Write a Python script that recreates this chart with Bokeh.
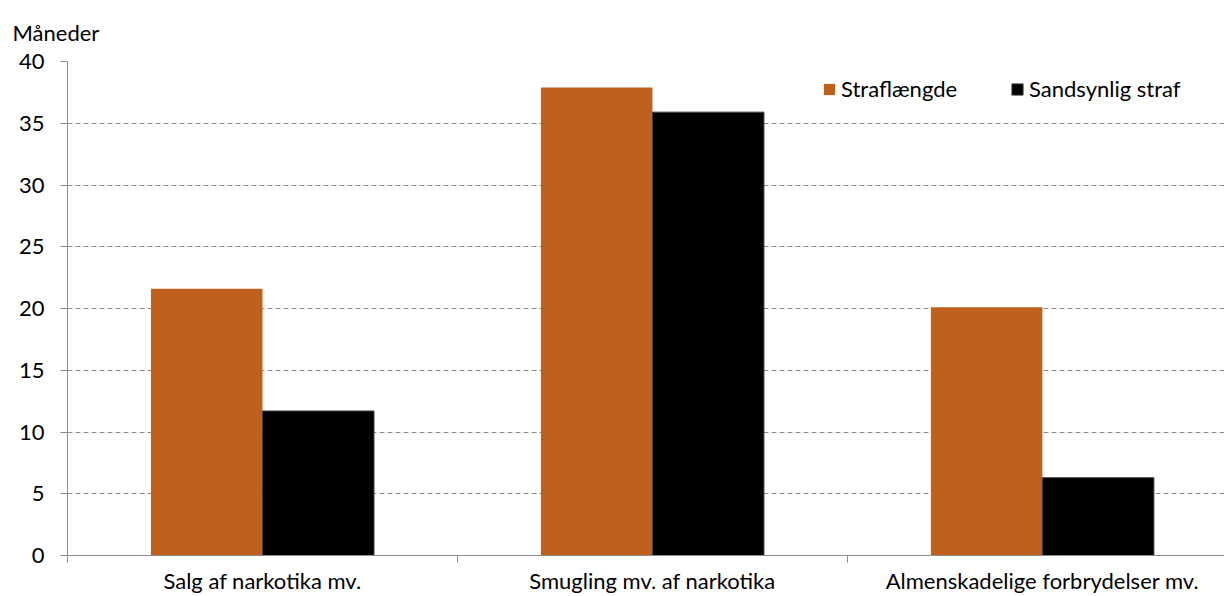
from bokeh.plotting import figure
from bokeh.models import (Range1d, FixedTicker, Legend, LegendItem,
                          ColumnDataSource, Title)
from bokeh.embed import file_html
from bokeh.resources import INLINE

categories = ["Salg af narkotika mv.", "Smugling mv. af narkotika",
              "Almenskadelige forbrydelser mv."]
series_names = ["Straflængde", "Sandsynlig straf"]
straflaengde = [21.6, 37.9, 20.1]
sandsynlig = [11.7, 35.9, 6.3]
y_ticks = [0, 5, 10, 15, 20, 25, 30, 35, 40]
y_label = "Måneder"

FONT = "Lato"
FS = "22px"
ORANGE = "#C0601E"
GREY = "#8C8C8C"

W, H = 1224, 596
bar_w = 0.286
idx = list(range(len(categories)))
centers = [i + 0.5 for i in idx]
src1 = ColumnDataSource(dict(x=[c - bar_w / 2 for c in centers], top=straflaengde))
src2 = ColumnDataSource(dict(x=[c + bar_w / 2 for c in centers], top=sandsynlig))

p = figure(width=W, height=H, output_backend="svg", toolbar_location=None,
           x_range=Range1d(0, 2.967), y_range=Range1d(0, 40),
           min_border_left=67, min_border_right=0, min_border_top=61,
           min_border_bottom=41)
p.outline_line_color = None
p.background_fill_color = "white"
p.border_fill_color = "white"

p.add_layout(Title(text=y_label, align="left", offset=-55, standoff=32,
                   vertical_align="bottom",
                   text_font=FONT, text_font_size=FS, text_font_style="normal",
                   text_color="black"), "above")

r1 = p.vbar(x="x", top="top", width=bar_w, source=src1, fill_color=ORANGE,
            line_color=None)
r2 = p.vbar(x="x", top="top", width=bar_w, source=src2, fill_color="black",
            line_color="#404040", line_width=1)

# axes
p.xgrid.visible = False
p.ygrid.grid_line_color = GREY
p.ygrid.grid_line_dash = "5 3"
p.ygrid.grid_line_width = 1
p.yaxis.ticker = FixedTicker(ticks=y_ticks)
p.yaxis.axis_line_color = GREY
p.yaxis.major_tick_line_color = GREY
p.yaxis.major_tick_out = 7
p.yaxis.major_tick_in = 0
p.yaxis.minor_tick_line_color = None
p.yaxis.major_label_standoff = 16
p.yaxis.major_label_text_font = FONT
p.yaxis.major_label_text_font_size = FS
p.yaxis.major_label_text_color = "black"

p.xaxis.ticker = FixedTicker(ticks=centers, minor_ticks=[0, 1, 2, 3])
p.xaxis.major_label_overrides = {c: name for c, name in zip(centers, categories)}
p.xaxis.axis_line_color = GREY
p.xaxis.major_tick_line_color = None
p.xaxis.major_tick_out = 0
p.xaxis.major_tick_in = 0
p.xaxis.minor_tick_line_color = GREY
p.xaxis.minor_tick_out = 7
p.xaxis.minor_tick_in = 0
p.xaxis.major_label_standoff = 4
p.xaxis.major_label_text_font = FONT
p.xaxis.major_label_text_font_size = FS
p.xaxis.major_label_text_color = "black"

for r, name, lx in [(r1, series_names[0], 755), (r2, series_names[1], 943)]:
    p.add_layout(Legend(items=[LegendItem(label=name, renderers=[r])],
                        location=(lx, 453), orientation="horizontal",
                        padding=0, margin=0, spacing=0,
                        glyph_width=14, glyph_height=14, label_height=14,
                        label_standoff=5, label_text_font=FONT,
                        label_text_font_size=FS, label_text_color="black",
                        border_line_color=None, background_fill_alpha=0))

open("out.html", "w").write(file_html(p, INLINE))
